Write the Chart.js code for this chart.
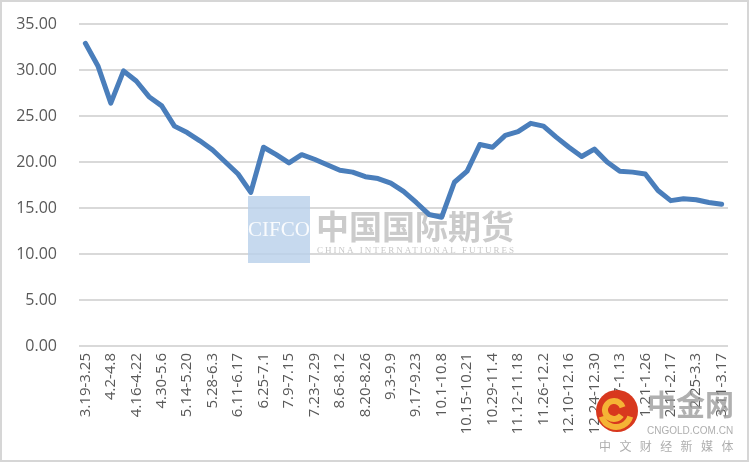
<!DOCTYPE html>
<html>
<head>
<meta charset="utf-8">
<script src="https://cdn.jsdelivr.net/npm/chart.js@4/dist/chart.umd.min.js"></script>
<style>
  html, body { margin: 0; padding: 0; background: #fff; }
  #wrap { width: 751px; height: 463px; position: relative; }
</style>
</head>
<body>
<div id="wrap"><canvas id="chart" width="751" height="463"></canvas></div>
<script>
// weekly periods
const weeks = [
  '3.19-3.25', '3.26-4.1', '4.2-4.8', '4.9-4.15', '4.16-4.22', '4.23-4.29',
  '4.30-5.6', '5.7-5.13', '5.14-5.20', '5.21-5.27', '5.28-6.3', '6.4-6.10',
  '6.11-6.17', '6.18-6.24', '6.25-7.1', '7.2-7.8', '7.9-7.15', '7.16-7.22',
  '7.23-7.29', '7.30-8.5', '8.6-8.12', '8.13-8.19', '8.20-8.26', '8.27-9.2',
  '9.3-9.9', '9.10-9.16', '9.17-9.23', '9.24-9.30', '10.1-10.8', '10.9-10.14',
  '10.15-10.21', '10.22-10.28', '10.29-11.4', '11.5-11.11', '11.12-11.18', '11.19-11.25',
  '11.26-12.2', '12.3-12.9', '12.10-12.16', '12.17-12.23', '12.24-12.30', '12.31-1.6',
  '1.7-1.13', '1.14-1.20', '1.21-1.26', '1.27-2.10', '2.11-2.17', '2.18-2.24',
  '2.25-3.3', '3.4-3.10', '3.11-3.17'
];

const values = [
  32.9, 30.4, 26.4, 29.9, 28.8, 27.1,
  26.1, 23.9, 23.2, 22.3, 21.3, 20.0,
  18.7, 16.7, 21.6, 20.8, 19.9, 20.8,
  20.3, 19.7, 19.1, 18.9, 18.4, 18.2,
  17.7, 16.8, 15.6, 14.3, 14.0, 17.8,
  19.0, 21.9, 21.6, 22.9, 23.3, 24.2,
  23.9, 22.7, 21.6, 20.6, 21.4, 20.0,
  19.0, 18.9, 18.7, 16.9, 15.8, 16.0,
  15.9, 15.6, 15.4
];

const yTicks = [0, 5, 10, 15, 20, 25, 30, 35];

// watermarks + outer frame
const decor = {
  id: 'decor',
  beforeDatasetsDraw(chart) {
    const ctx = chart.ctx;
    ctx.save();
    ctx.fillStyle = 'rgba(184,208,234,0.8)';
    ctx.fillRect(248, 196, 62, 67);
    ctx.fillStyle = 'rgba(255,255,255,0.9)';
    ctx.font = '21px "Liberation Serif"';
    ctx.textAlign = 'center';
    ctx.textBaseline = 'middle';
    ctx.fillText('CIFCO', 279, 230);
    ctx.fillStyle = 'rgba(160,160,160,0.55)';
    ctx.font = 'bold 33px "Noto Sans CJK SC"';
    ctx.textAlign = 'left';
    ctx.fillText('中国国际期货', 316, 226);
    ctx.font = '9px "Liberation Serif"';
    ctx.fillStyle = 'rgba(160,160,160,0.6)';
    ctx.letterSpacing = '2px';
    ctx.fillText('CHINA INTERNATIONAL FUTURES', 317, 251);
    ctx.letterSpacing = '0px';
    ctx.restore();
  },
  afterDraw(chart) {
    const ctx = chart.ctx;
    ctx.save();
    // cngold logo
    ctx.beginPath();
    ctx.arc(617, 411, 21, 0, Math.PI * 2);
    ctx.fillStyle = '#d8381e';
    ctx.fill();
    ctx.beginPath();
    ctx.arc(614, 410, 9, Math.PI * 0.2, Math.PI * 1.9);
    ctx.strokeStyle = '#f5b335';
    ctx.lineWidth = 6;
    ctx.stroke();
    ctx.beginPath();
    ctx.arc(616, 412, 15, Math.PI * 0.1, Math.PI * 0.9);
    ctx.stroke();
    ctx.fillStyle = 'rgba(150,150,150,0.75)';
    ctx.font = 'bold 29px "Noto Sans CJK SC"';
    ctx.textBaseline = 'middle';
    ctx.textAlign = 'left';
    ctx.fillText('中金网', 647, 405);
    ctx.font = '10px "Liberation Sans"';
    ctx.fillStyle = 'rgba(160,160,160,0.85)';
    ctx.fillText('CNGOLD.COM.CN', 647, 431);
    ctx.font = '12px "Noto Sans CJK SC"';
    const sub = '中文财经新媒体';
    for (let i = 0; i < sub.length; i++) {
      ctx.fillText(sub[i], 599 + i * 20.4, 446);
    }
    // outer frame
    ctx.strokeStyle = '#d6d6d6';
    ctx.lineWidth = 2;
    ctx.strokeRect(1, 1, 747, 460);
    ctx.restore();
  }
};

const ctx = document.getElementById('chart').getContext('2d');
new Chart(ctx, {
  type: 'line',
  data: {
    labels: weeks,
    datasets: [{
      data: values,
      borderColor: '#4a7ebb',
      borderWidth: 5,
      borderCapStyle: 'round',
      borderJoinStyle: 'round',
      pointRadius: 0,
      tension: 0,
      fill: false
    }]
  },
  options: {
    responsive: false,
    animation: false,
    layout: { padding: { top: 24, right: 23, bottom: 0, left: 0 } },
    plugins: {
      legend: { display: false },
      tooltip: { enabled: false }
    },
    scales: {
      x: {
        offset: true,
        grid: { display: false, drawTicks: false },
        border: { display: false },
        afterFit: s => { s.height = 117; },
        ticks: {
          autoSkip: false,
          maxRotation: 90,
          minRotation: 90,
          padding: 7,
          color: '#595959',
          font: { family: '"Open Sans"', size: 15 },
          callback: function (v, i) { return i % 2 === 0 ? weeks[i] : ''; }
        }
      },
      y: {
        min: yTicks[0],
        max: yTicks[yTicks.length - 1],
        afterBuildTicks: s => { s.ticks = yTicks.map(v => ({ value: v })); },
        afterFit: s => { s.width = 79; },
        grid: { color: '#d9d9d9', lineWidth: 2, drawTicks: false },
        border: { display: false },
        ticks: {
          padding: 22,
          color: '#595959',
          // tiny lineHeight keeps the label padding from pushing the plot top down
          font: { family: '"Open Sans"', size: 16, lineHeight: 0.1 },
          callback: v => v.toFixed(2)
        }
      }
    }
  },
  plugins: [decor]
});
</script>
</body>
</html>
